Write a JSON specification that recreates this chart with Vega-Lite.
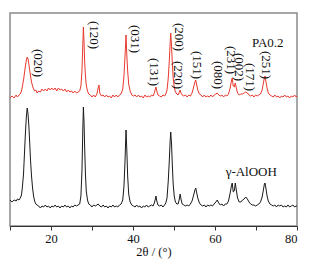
{
  "$schema": "https://vega.github.io/schema/vega-lite/v6.json",
  "width": 287,
  "height": 213,
  "autosize": {"type": "none"},
  "padding": {"left": 10, "top": 13, "right": 20, "bottom": 36},
  "background": "white",
  "config": {"view": {"stroke": "#8a8a8a", "strokeWidth": 1.5}, "font": "Liberation Serif"},
  "datasets": {
    "xrd": [
      {"t":10,"red":128,"black":26},{"t":10.5,"red":130,"black":24},{"t":11,"red":128,"black":26},{"t":11.5,"red":131,"black":25},
      {"t":11.8,"red":129,"black":27},{"t":12.2,"red":131,"black":26},{"t":12.5,"red":132,"black":28},{"t":12.8,"red":135,"black":31},
      {"t":13,"red":139,"black":38},{"t":13.3,"red":146,"black":52},{"t":13.5,"red":152,"black":70},{"t":13.75,"red":160,"black":92},
      {"t":14,"red":166,"black":110},{"t":14.2,"red":169,"black":118},{"t":14.4,"red":167,"black":112},{"t":14.6,"red":162,"black":100},
      {"t":14.8,"red":156,"black":84},{"t":15,"red":150,"black":66},{"t":15.25,"red":144,"black":50},{"t":15.5,"red":140,"black":38},
      {"t":15.75,"red":137,"black":30},{"t":16,"red":135,"black":25},{"t":16.3,"red":136,"black":22},{"t":16.6,"red":133,"black":21},
      {"t":17,"red":135,"black":20},{"t":17.4,"red":134,"black":18},{"t":17.8,"red":137,"black":20},{"t":18.2,"red":135,"black":19},
      {"t":18.6,"red":137,"black":21},{"t":19,"red":135,"black":19},{"t":19.4,"red":138,"black":20},{"t":19.8,"red":136,"black":18},
      {"t":20.2,"red":138,"black":20},{"t":20.6,"red":136,"black":19},{"t":21,"red":138,"black":21},{"t":21.4,"red":135,"black":19},
      {"t":21.8,"red":138,"black":20},{"t":22.2,"red":136,"black":18},{"t":22.6,"red":137,"black":20},{"t":23,"red":135,"black":19},
      {"t":23.4,"red":137,"black":21},{"t":23.8,"red":134,"black":19},{"t":24.2,"red":136,"black":20},{"t":24.6,"red":134,"black":18},
      {"t":25,"red":135,"black":20},{"t":25.4,"red":133,"black":19},{"t":25.8,"red":135,"black":21},{"t":26.2,"red":133,"black":20},
      {"t":26.6,"red":134,"black":21},{"t":27,"red":135,"black":22},{"t":27.3,"red":140,"black":30},{"t":27.55,"red":155,"black":55},
      {"t":27.75,"red":180,"black":95},{"t":27.9,"red":199,"black":119},{"t":28.05,"red":185,"black":105},{"t":28.2,"red":165,"black":80},
      {"t":28.4,"red":150,"black":52},{"t":28.6,"red":141,"black":35},{"t":28.9,"red":135,"black":26},{"t":29.2,"red":132,"black":22},
      {"t":29.6,"red":131,"black":21},{"t":30,"red":129,"black":19},{"t":30.4,"red":131,"black":21},{"t":30.8,"red":129,"black":20},
      {"t":31.2,"red":132,"black":21},{"t":31.5,"red":138,"black":22},{"t":31.7,"red":141,"black":21},{"t":31.9,"red":133,"black":20},
      {"t":32.3,"red":130,"black":19},{"t":32.7,"red":131,"black":21},{"t":33.1,"red":129,"black":19},{"t":33.5,"red":131,"black":20},
      {"t":33.9,"red":129,"black":18},{"t":34.3,"red":130,"black":20},{"t":34.7,"red":128,"black":19},{"t":35.1,"red":131,"black":21},
      {"t":35.5,"red":129,"black":19},{"t":35.9,"red":131,"black":20},{"t":36.3,"red":129,"black":19},{"t":36.7,"red":131,"black":21},
      {"t":37.1,"red":132,"black":22},{"t":37.5,"red":137,"black":26},{"t":37.8,"red":150,"black":40},{"t":38.05,"red":170,"black":65},
      {"t":38.3,"red":191,"black":96},{"t":38.5,"red":170,"black":75},{"t":38.7,"red":155,"black":50},{"t":38.95,"red":142,"black":32},
      {"t":39.3,"red":135,"black":24},{"t":39.7,"red":131,"black":21},{"t":40.1,"red":130,"black":20},{"t":40.5,"red":131,"black":19},
      {"t":40.9,"red":129,"black":21},{"t":41.3,"red":131,"black":19},{"t":41.7,"red":129,"black":20},{"t":42.1,"red":130,"black":18},
      {"t":42.5,"red":128,"black":20},{"t":42.9,"red":131,"black":19},{"t":43.3,"red":129,"black":21},{"t":43.7,"red":130,"black":19},
      {"t":44.1,"red":129,"black":20},{"t":44.5,"red":131,"black":21},{"t":44.9,"red":130,"black":20},{"t":45.2,"red":133,"black":23},
      {"t":45.45,"red":137,"black":27},{"t":45.6,"red":139,"black":30},{"t":45.8,"red":135,"black":25},{"t":46.1,"red":131,"black":21},
      {"t":46.5,"red":130,"black":20},{"t":46.9,"red":129,"black":21},{"t":47.3,"red":131,"black":19},{"t":47.7,"red":130,"black":21},
      {"t":48.0,"red":132,"black":23},{"t":48.3,"red":136,"black":28},{"t":48.6,"red":148,"black":45},{"t":48.85,"red":165,"black":65},
      {"t":49.05,"red":182,"black":84},{"t":49.2,"red":193,"black":94},{"t":49.4,"red":180,"black":82},{"t":49.6,"red":162,"black":60},
      {"t":49.8,"red":148,"black":42},{"t":50.05,"red":139,"black":30},{"t":50.35,"red":134,"black":24},{"t":50.7,"red":132,"black":22},
      {"t":51.0,"red":131,"black":22},{"t":51.3,"red":134,"black":27},{"t":51.5,"red":136,"black":32},{"t":51.7,"red":133,"black":27},
      {"t":52.0,"red":131,"black":22},{"t":52.4,"red":130,"black":21},{"t":52.8,"red":131,"black":20},{"t":53.2,"red":129,"black":21},
      {"t":53.6,"red":131,"black":20},{"t":54.0,"red":130,"black":22},{"t":54.4,"red":133,"black":25},{"t":54.8,"red":139,"black":31},
      {"t":55.1,"red":144,"black":36},{"t":55.3,"red":146,"black":38},{"t":55.55,"red":141,"black":33},{"t":55.8,"red":136,"black":28},
      {"t":56.2,"red":132,"black":23},{"t":56.6,"red":131,"black":21},{"t":57.0,"red":129,"black":20},{"t":57.4,"red":131,"black":21},
      {"t":57.8,"red":129,"black":19},{"t":58.2,"red":130,"black":21},{"t":58.6,"red":129,"black":20},{"t":59.0,"red":131,"black":21},
      {"t":59.4,"red":129,"black":20},{"t":59.8,"red":131,"black":22},{"t":60.2,"red":132,"black":24},{"t":60.55,"red":133,"black":26},
      {"t":60.9,"red":131,"black":23},{"t":61.3,"red":130,"black":21},{"t":61.7,"red":131,"black":22},{"t":62.1,"red":129,"black":20},
      {"t":62.5,"red":131,"black":22},{"t":62.9,"red":130,"black":22},{"t":63.3,"red":132,"black":25},{"t":63.7,"red":138,"black":33},
      {"t":64.0,"red":145,"black":40},{"t":64.2,"red":148,"black":43},{"t":64.45,"red":140,"black":34},{"t":64.7,"red":139,"black":35},
      {"t":64.95,"red":143,"black":43},{"t":65.2,"red":138,"black":36},{"t":65.5,"red":133,"black":28},{"t":65.9,"red":131,"black":24},
      {"t":66.3,"red":132,"black":24},{"t":66.7,"red":132,"black":26},{"t":67.1,"red":133,"black":27},{"t":67.5,"red":134,"black":29},
      {"t":67.9,"red":133,"black":27},{"t":68.3,"red":131,"black":24},{"t":68.7,"red":130,"black":22},{"t":69.1,"red":131,"black":21},
      {"t":69.5,"red":129,"black":21},{"t":69.9,"red":131,"black":20},{"t":70.3,"red":130,"black":21},{"t":70.7,"red":131,"black":22},
      {"t":71.1,"red":132,"black":24},{"t":71.5,"red":136,"black":29},{"t":71.8,"red":143,"black":36},{"t":72.05,"red":148,"black":42},
      {"t":72.2,"red":150,"black":43},{"t":72.45,"red":144,"black":37},{"t":72.7,"red":138,"black":30},{"t":73.0,"red":133,"black":25},
      {"t":73.4,"red":131,"black":22},{"t":73.8,"red":130,"black":21},{"t":74.2,"red":129,"black":20},{"t":74.6,"red":131,"black":21},
      {"t":75.0,"red":129,"black":19},{"t":75.4,"red":130,"black":21},{"t":75.8,"red":128,"black":20},{"t":76.2,"red":130,"black":21},
      {"t":76.6,"red":129,"black":19},{"t":77.0,"red":131,"black":20},{"t":77.4,"red":129,"black":19},{"t":77.8,"red":130,"black":21},
      {"t":78.2,"red":128,"black":19},{"t":78.6,"red":130,"black":20},{"t":79.0,"red":129,"black":21},{"t":79.4,"red":131,"black":19},
      {"t":79.8,"red":129,"black":20},{"t":80,"red":130,"black":20}
    ],
    "hkl": [
      {"t":16.8,"intensity":163,"label":"(020)"},
      {"t":30.5,"intensity":191,"label":"(120)"},
      {"t":40.5,"intensity":187,"label":"(031)"},
      {"t":45.1,"intensity":154,"label":"(131)"},
      {"t":51.2,"intensity":189,"label":"(200)"},
      {"t":51.0,"intensity":151,"label":"(220)"},
      {"t":55.6,"intensity":161,"label":"(151)"},
      {"t":60.7,"intensity":151,"label":"(080)"},
      {"t":63.9,"intensity":166,"label":"(231)"},
      {"t":65.9,"intensity":159,"label":"(002)"},
      {"t":68.5,"intensity":149,"label":"(171)"},
      {"t":72.4,"intensity":161,"label":"(251)"}
    ],
    "names": [
      {"t":69.0,"intensity":183,"label":"PA0.2"},
      {"t":62.6,"intensity":54,"label":"γ-AlOOH"}
    ]
  },
  "layer": [
    {
      "data": {"name": "xrd"},
      "transform": [{"fold": ["red", "black"], "as": ["series", "intensity"]}],
      "mark": {"type": "line", "strokeWidth": 1},
      "encoding": {
        "x": {
          "field": "t", "type": "quantitative",
          "scale": {"domain": [10, 80], "nice": false, "zero": false},
          "axis": {
            "title": "2θ / (°)", "values": [10, 20, 30, 40, 50, 60, 70, 80],
            "labelExpr": "datum.value % 20 == 0 ? datum.label : ''",
            "grid": false, "domainColor": "#333", "tickColor": "#333", "tickSize": 4,
            "labelFontSize": 12.5, "labelColor": "#111", "labelPadding": 2, "labelFont": "Liberation Serif",
            "titleFontSize": 12.5, "titleFontWeight": "normal", "titleColor": "#111", "titlePadding": 1, "titleFont": "Liberation Serif"
          }
        },
        "y": {"field": "intensity", "type": "quantitative", "scale": {"domain": [0, 213], "nice": false}, "axis": null},
        "color": {"field": "series", "type": "nominal", "scale": {"domain": ["red", "black"], "range": ["#e8392f", "#1a1a1a"]}, "legend": null}
      }
    },
    {
      "data": {"name": "hkl"},
      "mark": {"type": "text", "angle": 90, "fontSize": 13, "font": "Liberation Serif", "color": "#111", "align": "center", "baseline": "middle"},
      "encoding": {
        "x": {"field": "t", "type": "quantitative"},
        "y": {"field": "intensity", "type": "quantitative"},
        "text": {"field": "label"}
      }
    },
    {
      "data": {"name": "names"},
      "mark": {"type": "text", "fontSize": 13, "font": "Liberation Serif", "color": "#111", "align": "left", "baseline": "middle"},
      "encoding": {
        "x": {"field": "t", "type": "quantitative"},
        "y": {"field": "intensity", "type": "quantitative"},
        "text": {"field": "label"}
      }
    }
  ]
}
